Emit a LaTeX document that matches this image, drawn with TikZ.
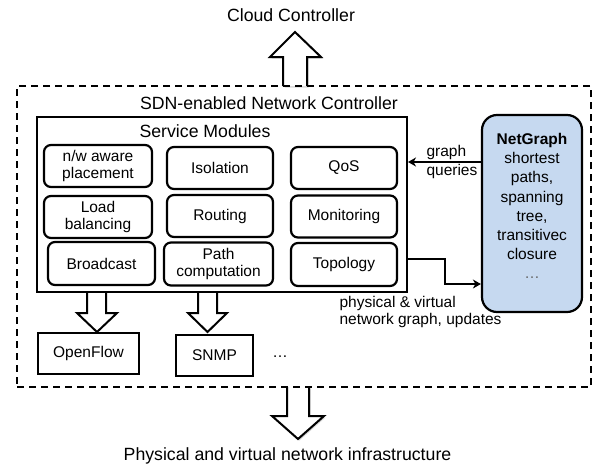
\documentclass[tikz,border=0pt]{standalone}
\usepackage{fontspec}
\setmainfont{Liberation Sans}
\usetikzlibrary{arrows.meta,shadows}
\definecolor{ngblue}{RGB}{198,217,240}
\begin{document}
\begin{tikzpicture}[x=1pt,y=-1pt,
  big/.style={font=\fontsize{17.7}{21}\selectfont},
  small/.style={font=\fontsize{15.5}{17.5}\selectfont},
  module/.style={draw, line width=2.2pt, rounded corners=7pt, minimum width=106pt, minimum height=42pt, align=center, inner sep=1pt, small},
  plainbox/.style={draw, line width=1.8pt, minimum height=41pt, small},
  blockarrow/.style={draw, line width=2pt, fill=white, line join=miter},
  bigshadow/.style={drop shadow={shadow xshift=1.5pt, shadow yshift=-1.5pt, opacity=0.3}},
  conn/.style={line width=2pt, line join=miter, -{Stealth[length=8pt,width=9pt,inset=2.5pt]}},
]
\useasboundingbox (0,0) rectangle (594,469);

% block arrows
\draw[blockarrow, bigshadow] (283,86) -- (283,57) -- (270,57) -- (295,32) -- (321,57) -- (307,57) -- (307,86);
\draw[blockarrow, bigshadow] (287,387) -- (287,416) -- (272,416) -- (298,439) -- (324,416) -- (309,416) -- (309,387);
\draw[blockarrow] (87,292) -- (87,313) -- (77,313) -- (97,332) -- (117,313) -- (106,313) -- (106,292);
\draw[blockarrow] (198,292) -- (198,313) -- (188,313) -- (207.5,332) -- (227,313) -- (217,313) -- (217,292);

% outer dashed controller
\node[draw, dash pattern=on 7pt off 5pt, line width=2pt, minimum width=574pt, minimum height=301pt] (outer) at (304,236.5) {};
\node[big] (sdn) at (269,103) {SDN-enabled Network Controller};

% texts outside
\node[big] (cloud) at (291,15) {Cloud Controller};
\node[big] (infra) at (287.5,456) {Physical and virtual network infrastructure};

% service modules
\node[draw, line width=2pt, minimum width=370pt, minimum height=175pt] (sm) at (222,204.5) {};
\node[big] (smt) at (205,131) {Service Modules};

\node[module, minimum width=108pt] (m11) at (98,166) {n/w aware\\placement};
\node[module] (m12) at (220,168) {Isolation};
\node[module] (m13) at (344,168) {QoS};
\node[module, minimum width=108pt] (m21) at (98,217) {Load\\balancing};
\node[module] (m22) at (220,216) {Routing};
\node[module] (m23) at (344,216.5) {Monitoring};
\node[module, minimum width=107pt, minimum height=43pt] (m31) at (101.5,263.5) {Broadcast};
\node[module, minimum width=109pt, minimum height=43pt] (m32) at (218.5,264) {Path\\computation};
\node[module, minimum height=43pt] (m33) at (344,264.5) {Topology};

% southbound
\node[plainbox, minimum width=101pt] (of) at (88.5,353.5) {OpenFlow};
\node[plainbox, minimum width=77pt] (snmp) at (214.5,355.5) {SNMP};
\node[small] (dots) at (280,357) {…};

% NetGraph
\node[draw, line width=2.2pt, fill=ngblue, rounded corners=15pt, minimum width=100pt, minimum height=197pt] (ng) at (532,213.5) {};
\node[align=center, font=\fontsize{15.5}{19.1}\selectfont] (ngt) at (532,206) {\textbf{NetGraph}\\shortest\\paths,\\spanning\\tree,\\transitivec\\closure\\\textcolor{black!60}{…}};

% connectors
\coordinate (gqy) at (0,162);
\coordinate (tpy) at (0,259);
\coordinate (tpy2) at (0,284);
\coordinate (tpx) at (445,0);
\draw[conn] (ng.west |- gqy) -- (sm.east |- gqy);
\draw[conn] (sm.east |- tpy) -| (tpx |- tpy2) -- (ng.west |- tpy2);

\node[anchor=west, align=left, font=\fontsize{15.5}{19}\selectfont] (gq) at (423,161.5) {graph\\queries};
\node[anchor=west, align=left, font=\fontsize{15.5}{17}\selectfont] (pv) at (336,311.5) {physical \& virtual\\network graph, updates};
\end{tikzpicture}
\end{document}
